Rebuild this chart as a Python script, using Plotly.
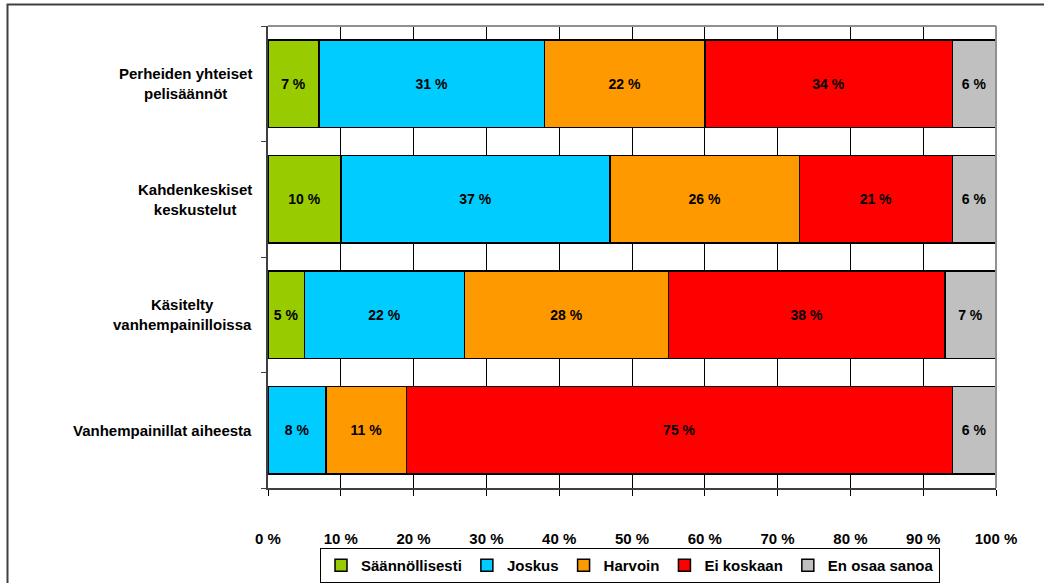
import plotly.graph_objects as go

# survey answers, % of respondents
categories = [
    "Perheiden yhteiset<br>pelisäännöt",
    "Kahdenkeskiset<br>keskustelut",
    "Käsitelty<br>vanhempainilloissa",
    "Vanhempainillat aiheesta",
]
cat_keys = ["Perheiden", "Kahdenkeskiset", "Käsitelty", "Vanhempainillat"]

series_names = ["Säännöllisesti", "Joskus", "Harvoin", "Ei koskaan", "En osaa sanoa"]
saannollisesti = [7, 10, 5, 0]
joskus = [31, 37, 22, 8]
harvoin = [22, 26, 28, 11]
ei_koskaan = [34, 21, 38, 75]
en_osaa = [6, 6, 7, 6]
series_values = [saannollisesti, joskus, harvoin, ei_koskaan, en_osaa]
series_colors = ["#99CC00", "#00CCFF", "#FF9900", "#FF0000", "#C0C0C0"]

tick_vals = [0, 10, 20, 30, 40, 50, 60, 70, 80, 90, 100]
tick_text = [f"{v} %" for v in tick_vals]

FONT = "Liberation Sans, Arial, sans-serif"

# pixel geometry of the plot area
W, H = 1044, 583
L, R, T, B = 268, 996, 26, 488
pw, ph = R - L, B - T

def px_x(x):
    return (x - L) / pw

def px_y(y):
    return (B - y) / ph

fig = go.Figure()
for name, vals, col in zip(series_names, series_values, series_colors):
    fig.add_trace(go.Bar(
        y=cat_keys,
        x=vals,
        name=f"<b>{name}</b>",
        orientation="h",
        marker=dict(color=col, line=dict(color="black", width=1.5)),
        text=[f"<b>{v} %</b>" if v > 0 else "" for v in vals],
        textposition="inside",
        insidetextanchor="middle",
        textangle=0,
        textfont=dict(family=FONT, size=14, color="black"),
        hoverinfo="skip",
    ))

# category labels as centred annotations (multi-line labels are centred)
for key, lab in zip(cat_keys, categories):
    fig.add_annotation(
        x=px_x(254), xref="paper", xanchor="right",
        y=key, yref="y", yanchor="middle",
        text=f"<b>{lab}</b>", showarrow=False, align="center",
        font=dict(family=FONT, size=15, color="black"),
    )

# outer chart border (left/top visible in the picture)
fig.add_shape(type="rect", xref="paper", yref="paper",
              x0=px_x(7.5), x1=px_x(1060), y0=px_y(4.5), y1=px_y(600),
              line=dict(color="#404040", width=2), layer="below")
# grey plot area frame, top and right
fig.add_shape(type="line", xref="paper", yref="paper", x0=0, x1=1, y0=1, y1=1,
              line=dict(color="#909090", width=2))
fig.add_shape(type="line", xref="paper", yref="paper", x0=1, x1=1, y0=0, y1=1,
              line=dict(color="#909090", width=2))

fig.update_layout(
    barmode="stack",
    bargap=0.24,
    width=W, height=H,
    margin=dict(l=L, r=W - R, t=T, b=H - B, autoexpand=False),
    paper_bgcolor="white",
    plot_bgcolor="white",
    font=dict(family=FONT, size=13, color="black"),
    uniformtext=dict(minsize=14, mode="show"),
    showlegend=True,
    legend=dict(
        orientation="h",
        x=px_x(630), xanchor="center",
        y=px_y(548), yanchor="top",
        bordercolor="black", borderwidth=1,
        font=dict(family=FONT, size=15, color="black"),
        itemwidth=30,
        traceorder="normal",
    ),
    xaxis=dict(
        range=[0, 100],
        tickvals=tick_vals,
        ticktext=[f"<b>{t}</b>" for t in tick_text],
        tickfont=dict(family=FONT, size=15, color="black"),
        ticklabelstandoff=30,
        showgrid=True, gridcolor="black", gridwidth=1,
        zeroline=False,
        showline=True, linecolor="#404040", linewidth=1.5,
        ticks="outside", ticklen=6, tickcolor="black",
        automargin=False,
        fixedrange=True,
    ),
    yaxis=dict(
        categoryorder="array",
        categoryarray=cat_keys[::-1],
        showticklabels=False,
        tickson="boundaries",
        ticks="outside", ticklen=5, tickcolor="#404040",
        showgrid=False,
        showline=True, linecolor="#404040", linewidth=1.5,
        automargin=False,
        fixedrange=True,
    ),
)

# page body has a default 8px margin; drop it so the figure sits at 0,0
fig.write_html("out.html", config={"displayModeBar": False},
               post_script="document.body.style.margin='0';")
